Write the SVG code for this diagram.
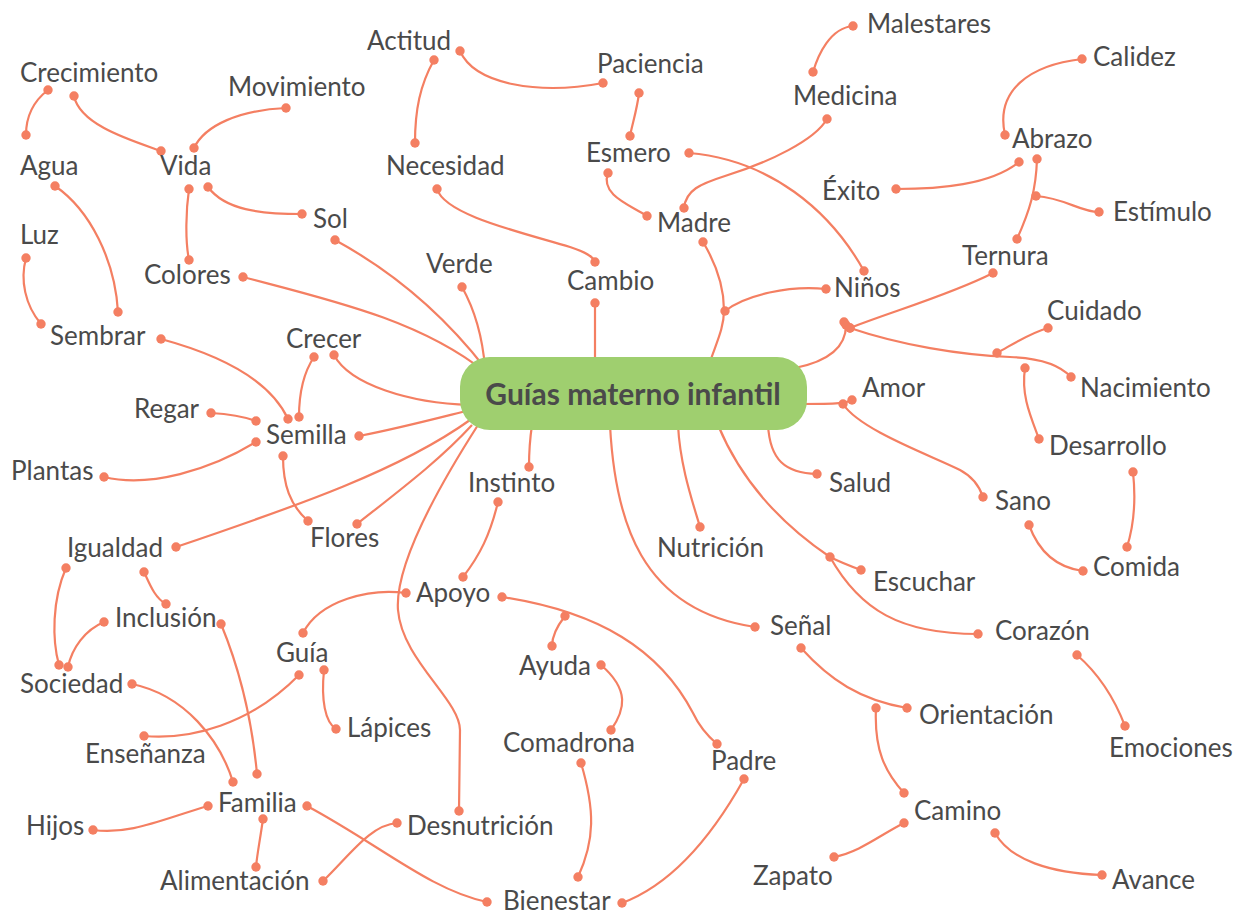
<svg xmlns="http://www.w3.org/2000/svg" width="1238" height="914" viewBox="0 0 1238 914">
<defs>
<marker id="dot" markerUnits="userSpaceOnUse" markerWidth="12" markerHeight="12" refX="6" refY="6" viewBox="0 0 12 12"><circle cx="6" cy="6" r="4.7" fill="#f47f62"/></marker>
<style>
.c{fill:none;stroke:#f47f62;stroke-width:2.2;marker-start:url(#dot);marker-end:url(#dot)}
.m{fill:none;stroke:#f47f62;stroke-width:2.2;marker-start:url(#dot)}
.j{fill:#f47f62}
.t{font-family:Lato,"Liberation Sans",sans-serif;font-size:26px;fill:#4a4a4a}
.ct{font-family:Lato,"Liberation Sans",sans-serif;font-size:30px;font-weight:bold;fill:#4a4a4a}
</style>
</defs>
<rect width="1238" height="914" fill="#fff"/>
<g id="connectors">
<path class="m" d="M335,240 C390,270 440,310 485,368"/>
<path class="m" d="M243,277 C330,300 420,320 485,372"/>
<path class="m" d="M462,287 C472,305 482,330 485,368"/>
<path class="m" d="M595,303 L595,368"/>
<path class="m" d="M703,242 C715,262 724,285 724,310 C724,330 715,345 708,368"/>
<path class="c" d="M725,311 C745,295 790,285 826,289"/>
<path class="m" d="M846,325 C846,350 825,362 795,368"/>
<path class="c" d="M993,273 C950,295 890,312 850,328"/>
<path class="c" d="M850,328 C900,345 960,355 1010,357 C1040,358 1060,365 1071,377"/>
<path class="c" d="M997,353 C1015,343 1030,333 1048,328"/>
<path class="c" d="M1025,368 C1021,395 1030,415 1039,439"/>
<path class="m" d="M852,400 C846,403 840,404 800,404"/>
<path class="c" d="M843,404 C860,430 930,455 960,470 C975,478 980,488 983,497"/>
<path class="m" d="M817,474 C785,473 770,460 768,425"/>
<path class="c" d="M1029,525 C1040,555 1060,568 1083,571"/>
<path class="c" d="M1133,472 C1136,500 1134,525 1127,547"/>
<path class="m" d="M861,570 C850,566 840,562 830,557 C790,530 745,490 718,425"/>
<path class="c" d="M830,557 C860,610 900,634 978,634"/>
<path class="c" d="M1077,655 C1100,675 1115,700 1125,726"/>
<path class="m" d="M700,527 C692,500 680,465 678,425"/>
<path class="m" d="M755,627 C640,610 615,520 610,425"/>
<path class="c" d="M801,648 C830,680 860,700 907,708"/>
<path class="c" d="M876,708 C874,750 885,772 904,793"/>
<path class="c" d="M904,823 C880,835 860,852 834,857"/>
<path class="c" d="M995,833 C1010,860 1050,873 1102,875"/>
<path class="m" d="M529,467 C529,455 529,445 532,425"/>
<path class="c" d="M498,502 C490,535 480,555 463,577"/>
<path class="c" d="M502,597 C600,612 660,650 693,713 C700,728 710,738 717,744"/>
<path class="c" d="M565,616 C558,625 552,635 552,646"/>
<path class="c" d="M601,665 C630,690 625,710 611,730"/>
<path class="c" d="M581,763 C595,810 595,840 578,877"/>
<path class="c" d="M744,779 C710,840 670,885 622,903"/>
<path class="c" d="M307,806 C380,845 430,890 487,902"/>
<path class="m" d="M459,811 L460,730 C460,700 402,660 398,610 C395,570 430,500 478,425"/>
<path class="c" d="M406,593 C370,588 320,600 303,633"/>
<path class="c" d="M299,675 C250,725 190,740 144,736"/>
<path class="c" d="M324,670 C321,700 325,722 336,729"/>
<path class="c" d="M323,881 C350,855 370,825 397,823"/>
<path class="c" d="M263,819 C260,840 257,855 256,867"/>
<path class="c" d="M208,806 C160,820 130,835 93,830"/>
<path class="c" d="M221,624 C240,670 252,720 257,774"/>
<path class="c" d="M132,684 C185,695 220,740 233,782"/>
<path class="c" d="M104,622 C85,630 72,648 68,667"/>
<path class="c" d="M66,568 C52,600 52,640 59,665"/>
<path class="c" d="M144,572 C150,585 155,598 166,604"/>
<path class="m" d="M176,547 C300,505 400,470 470,420"/>
<path class="m" d="M357,524 C400,490 440,460 472,425"/>
<path class="c" d="M283,456 C283,485 290,505 308,521"/>
<path class="m" d="M359,436 C400,428 430,420 470,410"/>
<path class="c" d="M256,442 C210,470 150,488 104,477"/>
<path class="c" d="M211,413 C230,414 245,417 256,421"/>
<path class="c" d="M314,357 C302,375 299,395 299,417"/>
<path class="m" d="M334,355 C350,385 410,403 470,405"/>
<path class="c" d="M161,339 C220,355 270,380 288,419"/>
<path class="c" d="M55,186 C90,210 115,260 118,312"/>
<path class="c" d="M26,258 C20,280 25,305 41,324"/>
<path class="c" d="M48,90 C35,100 26,115 26,135"/>
<path class="c" d="M74,96 C80,125 130,140 161,151"/>
<path class="c" d="M286,108 C240,110 205,125 194,148"/>
<path class="c" d="M208,187 C225,210 260,214 302,214"/>
<path class="c" d="M189,189 C186,210 185,240 189,260"/>
<path class="c" d="M434,60 C420,85 415,110 415,143"/>
<path class="c" d="M460,51 C475,85 540,95 603,83"/>
<path class="c" d="M639,93 C637,110 632,125 630,136"/>
<path class="c" d="M437,189 C445,215 520,232 570,247 C585,252 593,256 595,262"/>
<path class="c" d="M689,153 C770,160 830,210 864,271"/>
<path class="c" d="M608,173 C600,195 630,205 647,216"/>
<path class="c" d="M684,208 C686,190 700,184 725,176 C770,162 815,140 827,119"/>
<path class="c" d="M813,72 C818,55 830,28 853,26"/>
<path class="c" d="M1082,59 C1030,65 995,90 1005,135"/>
<path class="c" d="M1019,162 C990,185 940,189 896,189"/>
<path class="c" d="M1037,159 C1036,190 1030,210 1017,239"/>
<path class="c" d="M1036,196 C1065,198 1080,212 1099,212"/>
<circle class="j" cx="844" cy="322" r="4.7"/>
</g>
<g id="center"><rect x="460" y="357" width="347" height="73" rx="30" fill="#9fcf6f"/><text class="ct" x="633" y="405" text-anchor="middle">Guías materno infantil</text></g>
<g id="n-crecimiento"><text class="t" x="20" y="82">Crecimiento</text></g>
<g id="n-movimiento"><text class="t" x="228" y="96">Movimiento</text></g>
<g id="n-vida"><text class="t" x="160" y="175">Vida</text></g>
<g id="n-agua"><text class="t" x="20" y="175">Agua</text></g>
<g id="n-luz"><text class="t" x="20" y="244">Luz</text></g>
<g id="n-sol"><text class="t" x="313" y="228">Sol</text></g>
<g id="n-colores"><text class="t" x="144" y="284">Colores</text></g>
<g id="n-sembrar"><text class="t" x="50" y="345">Sembrar</text></g>
<g id="n-crecer"><text class="t" x="286" y="348">Crecer</text></g>
<g id="n-regar"><text class="t" x="134" y="418">Regar</text></g>
<g id="n-semilla"><text class="t" x="266" y="444">Semilla</text></g>
<g id="n-plantas"><text class="t" x="11" y="480">Plantas</text></g>
<g id="n-flores"><text class="t" x="310" y="547">Flores</text></g>
<g id="n-igualdad"><text class="t" x="67" y="557">Igualdad</text></g>
<g id="n-inclusion"><text class="t" x="115" y="627">Inclusión</text></g>
<g id="n-sociedad"><text class="t" x="20" y="693">Sociedad</text></g>
<g id="n-guia"><text class="t" x="276" y="662">Guía</text></g>
<g id="n-lapices"><text class="t" x="347" y="737">Lápices</text></g>
<g id="n-ensenanza"><text class="t" x="85" y="763">Enseñanza</text></g>
<g id="n-familia"><text class="t" x="218" y="812">Familia</text></g>
<g id="n-hijos"><text class="t" x="26" y="835">Hijos</text></g>
<g id="n-alimentacion"><text class="t" x="160" y="890">Alimentación</text></g>
<g id="n-desnutricion"><text class="t" x="407" y="835">Desnutrición</text></g>
<g id="n-bienestar"><text class="t" x="503" y="910">Bienestar</text></g>
<g id="n-apoyo"><text class="t" x="416" y="602">Apoyo</text></g>
<g id="n-instinto"><text class="t" x="468" y="492">Instinto</text></g>
<g id="n-ayuda"><text class="t" x="519" y="675">Ayuda</text></g>
<g id="n-comadrona"><text class="t" x="503" y="752">Comadrona</text></g>
<g id="n-padre"><text class="t" x="711" y="770">Padre</text></g>
<g id="n-senal"><text class="t" x="770" y="635">Señal</text></g>
<g id="n-nutricion"><text class="t" x="657" y="557">Nutrición</text></g>
<g id="n-orientacion"><text class="t" x="919" y="724">Orientación</text></g>
<g id="n-camino"><text class="t" x="914" y="820">Camino</text></g>
<g id="n-zapato"><text class="t" x="753" y="885">Zapato</text></g>
<g id="n-avance"><text class="t" x="1112" y="889">Avance</text></g>
<g id="n-corazon"><text class="t" x="995" y="640">Corazón</text></g>
<g id="n-emociones"><text class="t" x="1109" y="757">Emociones</text></g>
<g id="n-escuchar"><text class="t" x="873" y="591">Escuchar</text></g>
<g id="n-salud"><text class="t" x="829" y="492">Salud</text></g>
<g id="n-sano"><text class="t" x="995" y="510">Sano</text></g>
<g id="n-comida"><text class="t" x="1093" y="576">Comida</text></g>
<g id="n-desarrollo"><text class="t" x="1049" y="455">Desarrollo</text></g>
<g id="n-amor"><text class="t" x="862" y="397">Amor</text></g>
<g id="n-nacimiento"><text class="t" x="1080" y="397">Nacimiento</text></g>
<g id="n-cuidado"><text class="t" x="1047" y="320">Cuidado</text></g>
<g id="n-ternura"><text class="t" x="962" y="265">Ternura</text></g>
<g id="n-ninos"><text class="t" x="834" y="297">Niños</text></g>
<g id="n-estimulo"><text class="t" x="1113" y="221">Estímulo</text></g>
<g id="n-exito"><text class="t" x="822" y="200">Éxito</text></g>
<g id="n-abrazo"><text class="t" x="1012" y="148">Abrazo</text></g>
<g id="n-calidez"><text class="t" x="1093" y="66">Calidez</text></g>
<g id="n-malestares"><text class="t" x="867" y="33">Malestares</text></g>
<g id="n-medicina"><text class="t" x="793" y="105">Medicina</text></g>
<g id="n-madre"><text class="t" x="657" y="232">Madre</text></g>
<g id="n-esmero"><text class="t" x="586" y="162">Esmero</text></g>
<g id="n-paciencia"><text class="t" x="597" y="73">Paciencia</text></g>
<g id="n-actitud"><text class="t" x="367" y="50">Actitud</text></g>
<g id="n-necesidad"><text class="t" x="386" y="175">Necesidad</text></g>
<g id="n-verde"><text class="t" x="426" y="273">Verde</text></g>
<g id="n-cambio"><text class="t" x="567" y="290">Cambio</text></g>
</svg>
